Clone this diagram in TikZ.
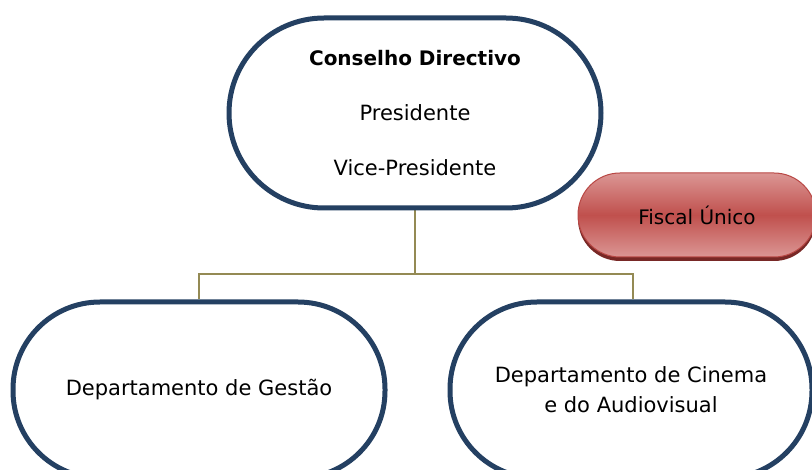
\documentclass[tikz,border=0pt]{standalone}
\usepackage{fontspec}
\setmainfont{DejaVu Sans}
\usetikzlibrary{shadows,backgrounds}
\definecolor{navy}{RGB}{36,64,98}
\definecolor{olivelink}{RGB}{148,138,84}
\definecolor{redlight}{RGB}{219,150,148}
\definecolor{redmid}{RGB}{192,80,77}
\definecolor{redborder}{RGB}{185,72,69}
\definecolor{redshadow}{RGB}{120,40,38}
\begin{document}
\begin{tikzpicture}[x=1pt,y=-1pt,
  orgbox/.style={draw=navy, line width=5pt, fill=white, align=center,
    font=\fontsize{21}{30}\selectfont, inner sep=0pt},
  fiscalbox/.style={draw=redborder, line width=1pt, top color=redlight,
    bottom color=redlight, middle color=redmid, align=center,
    font=\fontsize{20}{24}\selectfont, inner sep=0pt,
    minimum width=238pt, minimum height=84pt, rounded corners=42pt,
    drop shadow={shadow xshift=0pt, shadow yshift=-4pt, fill=redshadow, opacity=1}},
  link/.style={draw=olivelink, line width=2pt}]
\clip (0,0) rectangle (812,470);

\node[orgbox, minimum width=372pt, minimum height=190pt, rounded corners=95pt,
      font=\fontsize{21}{27}\selectfont] (cd) at (415,113)
  {{\fontsize{20}{27}\selectfont\bfseries Conselho Directivo}\\[28pt]Presidente\\[28pt]Vice-Presidente};

\node[fiscalbox] (fiscal) at (697,215) {Fiscal Único};

\node[orgbox, minimum width=372pt, minimum height=176pt, rounded corners=87pt]
  (gestao) at (199,390) {Departamento de Gestão};

\node[orgbox, minimum width=362pt, minimum height=176pt, rounded corners=87pt]
  (cinema) at (631,390) {Departamento de Cinema\\e do Audiovisual};

\coordinate (jl) at (199,274);
\coordinate (jr) at (633,274);

\begin{scope}[on background layer]
  \fill[white] (0,0) rectangle (812,470);
  \draw[link] (cd.south) |- (jl) -- (jl |- gestao.north);
  \draw[link] (cd.south |- jr) -- (jr) -- (jr |- cinema.north);
\end{scope}
\end{tikzpicture}
\end{document}
